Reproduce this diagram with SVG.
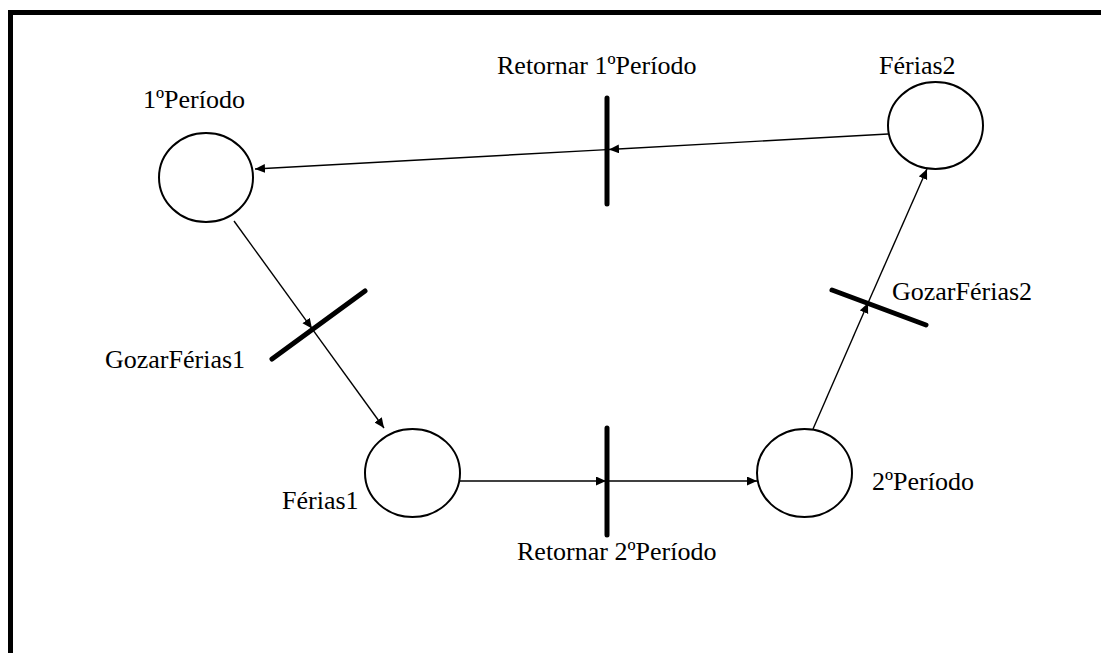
<svg xmlns="http://www.w3.org/2000/svg" width="1101" height="653" viewBox="0 0 1101 653">
  <style>
    .place { fill: #fff; stroke: #000; stroke-width: 2; }
    .trans { stroke: #000; stroke-width: 5; stroke-linecap: round; }
    .arc { stroke: #000; stroke-width: 1.4; fill: none; marker-end: url(#arrow); }
    .lbl { font-family: "Liberation Serif", "Times New Roman", serif; font-size: 26px; fill: #000; }
    .frame { stroke: #000; stroke-width: 5; fill: none; }
  </style>
  <defs>
    <marker id="arrow" markerUnits="userSpaceOnUse" markerWidth="11" markerHeight="10" refX="10" refY="4.5" orient="auto">
      <path d="M0,0 L10,4.5 L0,9 z" fill="#000"/>
    </marker>
  </defs>

  <rect width="1101" height="653" fill="#fff"/>

  <!-- page frame -->
  <path class="frame" d="M10.5,653 V12.5 H1101"/>

  <!-- arcs -->
  <g id="connectors">
    <line class="arc" x1="888" y1="134" x2="609" y2="149.5"/>
    <line class="arc" x1="607" y1="149.6" x2="255" y2="169"/>
    <line class="arc" x1="234" y1="221" x2="312" y2="328.6"/>
    <line class="arc" x1="312.5" y1="329.3" x2="384" y2="428"/>
    <line class="arc" x1="460" y1="481" x2="606" y2="481"/>
    <line class="arc" x1="607" y1="481" x2="757" y2="481"/>
    <line class="arc" x1="813" y1="429" x2="868" y2="303"/>
    <line class="arc" x1="868" y1="303" x2="927" y2="169"/>
  </g>

  <!-- places -->
  <g id="p-periodo1">
    <ellipse class="place" cx="206" cy="177.5" rx="47" ry="44.5"/>
    <text class="lbl" x="143" y="108">1ºPeríodo</text>
  </g>
  <g id="p-ferias1">
    <ellipse class="place" cx="412.5" cy="473" rx="47.5" ry="44"/>
    <text class="lbl" x="282" y="509">Férias1</text>
  </g>
  <g id="p-periodo2">
    <ellipse class="place" cx="804.5" cy="473" rx="47.5" ry="44"/>
    <text class="lbl" x="872" y="490">2ºPeríodo</text>
  </g>
  <g id="p-ferias2">
    <ellipse class="place" cx="935.5" cy="125.5" rx="47.5" ry="43.5"/>
    <text class="lbl" x="879" y="74">Férias2</text>
  </g>

  <!-- transitions -->
  <g id="t-retornar1">
    <line class="trans" x1="607" y1="98" x2="607" y2="204"/>
    <text class="lbl" x="497" y="74">Retornar 1ºPeríodo</text>
  </g>
  <g id="t-gozar1">
    <line class="trans" x1="272" y1="359" x2="365" y2="291"/>
    <text class="lbl" x="105" y="368">GozarFérias1</text>
  </g>
  <g id="t-retornar2">
    <line class="trans" x1="607" y1="428" x2="607" y2="535"/>
    <text class="lbl" x="517" y="560">Retornar 2ºPeríodo</text>
  </g>
  <g id="t-gozar2">
    <line class="trans" x1="832" y1="290" x2="926" y2="325"/>
    <text class="lbl" x="892" y="300">GozarFérias2</text>
  </g>
</svg>
